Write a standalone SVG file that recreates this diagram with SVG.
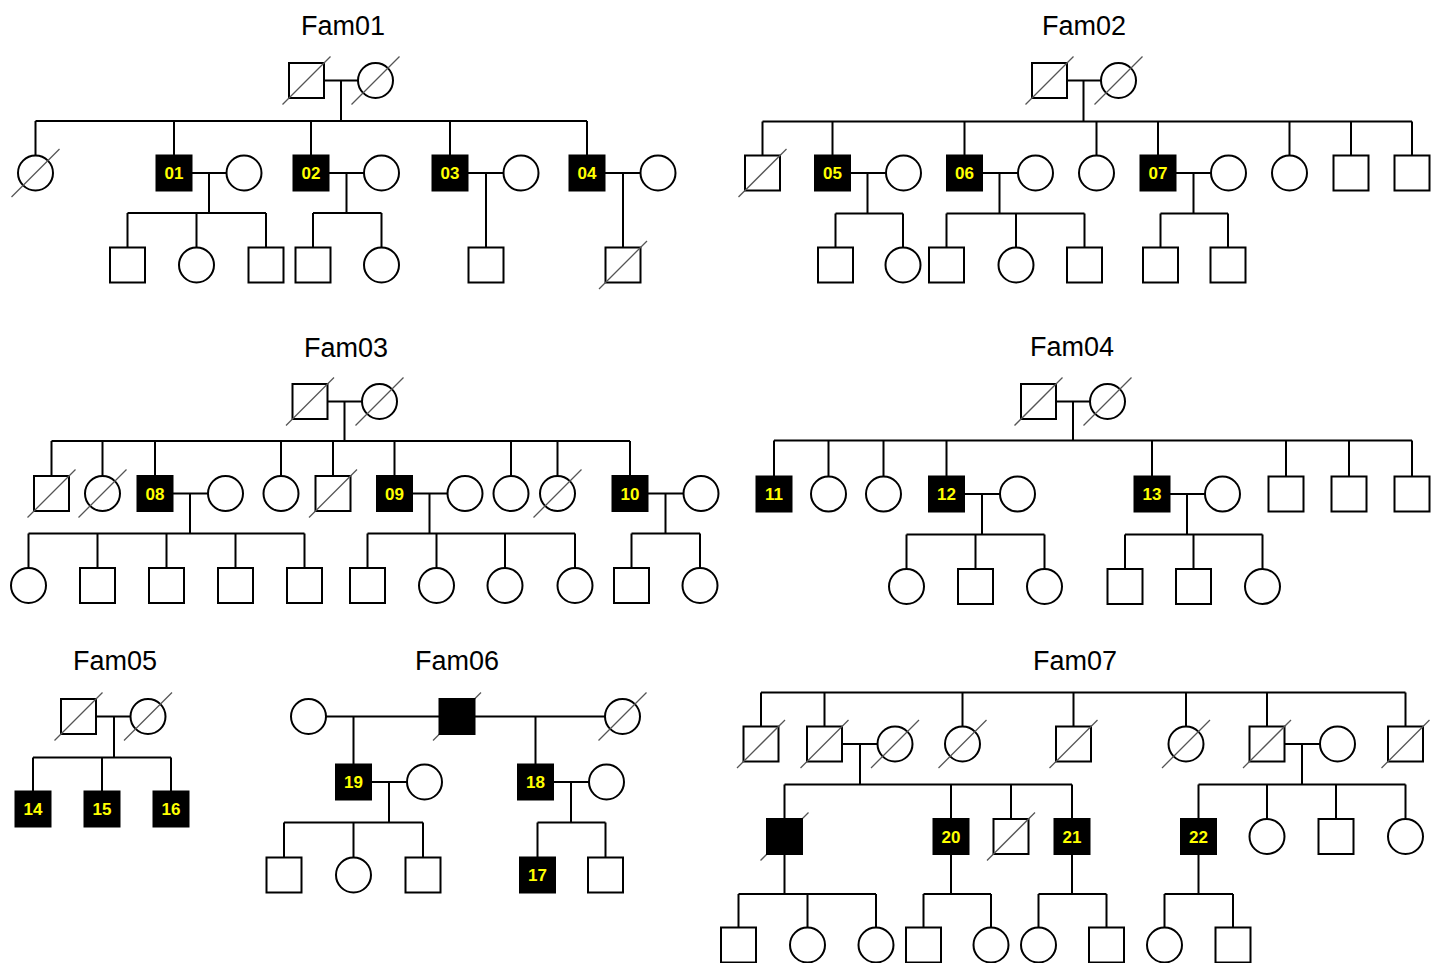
<svg xmlns="http://www.w3.org/2000/svg" xmlns:xlink="http://www.w3.org/1999/xlink" width="1439" height="963" viewBox="0 0 1439 963">
<style>
.sym{fill:#fff;stroke:#000;stroke-width:2}
.aff{fill:#000;stroke:#000;stroke-width:2}
.dec{stroke:#555;stroke-width:1.3}
.ln{fill:none;stroke:#000;stroke-width:2}
.lab{font-family:"Liberation Sans",Arial,sans-serif;font-weight:bold;font-size:17px;fill:#ffff00;text-anchor:middle}
.title{font-family:"Liberation Sans",Arial,sans-serif;font-size:27px;fill:#000;text-anchor:middle}
</style>
<defs>
<rect id="sq" x="-17.5" y="-17.5" width="35" height="35" class="sym"/>
<rect id="sqa" x="-17.5" y="-17.5" width="35" height="35" class="aff"/>
<circle id="ci" r="17.5" class="sym"/>
<line id="sl" x1="-24" y1="24" x2="24" y2="-24" class="dec"/>
</defs>
<rect width="1439" height="963" fill="#fff"/>

<g id="titles">
<text class="title" x="343" y="35">Fam01</text>
<text class="title" x="1084" y="35">Fam02</text>
<text class="title" x="346" y="357">Fam03</text>
<text class="title" x="1072" y="356">Fam04</text>
<text class="title" x="115" y="670">Fam05</text>
<text class="title" x="457" y="670">Fam06</text>
<text class="title" x="1075" y="670">Fam07</text>
</g>

<g id="connectors" class="ln">
<!-- Fam01 -->
<path d="M324,80.5H358M341,80.5V121M35.5,121H587M35.5,121V155.5M174,121V155.5M311,121V155.5M450,121V155.5M587,121V155.5"/>
<path d="M191.5,173H226.5M209,173V213M127.5,213H266M127.5,213V247.5M196.5,213V247.5M266,213V247.5"/>
<path d="M328.5,173H364M346.5,173V213M313,213H381.5M313,213V247.5M381.5,213V247.5"/>
<path d="M467.5,173H503.5M486,173V247.5"/>
<path d="M604.5,173H640.5M623,173V247.5"/>
<!-- Fam02 -->
<path d="M1067,80.5H1101M1083.5,80.5V121.5M762.5,121.5H1412M762.5,121.5V155.5M832.5,121.5V155.5M964.5,121.5V155.5M1096.5,121.5V155.5M1158,121.5V155.5M1289.5,121.5V155.5M1351,121.5V155.5M1412,121.5V155.5"/>
<path d="M850,173H886M867.5,173V213.5M835.5,213.5H903M835.5,213.5V247.5M903,213.5V247.5"/>
<path d="M982,173H1018M999.5,173V213.5M946.5,213.5H1084.5M946.5,213.5V247.5M1016,213.5V247.5M1084.5,213.5V247.5"/>
<path d="M1175.5,173H1211M1193.5,173V213.5M1160.5,213.5H1228M1160.5,213.5V247.5M1228,213.5V247.5"/>
<!-- Fam03 -->
<path d="M327.5,401.5H362M344.5,401.5V441M51.5,441H630M51.5,441V476M102.5,441V476M155,441V476M281,441V476M333,441V476M394.5,441V476M511,441V476M557.5,441V476M630,441V476"/>
<path d="M172.5,493.5H208M190,493.5V533.5M28.5,533.5H304.5M28.5,533.5V568M97.5,533.5V568M166.5,533.5V568M235.5,533.5V568M304.5,533.5V568"/>
<path d="M412,493.5H447.5M429.5,493.5V533.5M367.5,533.5H575M367.5,533.5V568M436.5,533.5V568M505,533.5V568M575,533.5V568"/>
<path d="M647.5,493.5H683.5M665.5,493.5V533.5M631.5,533.5H700M631.5,533.5V568M700,533.5V568"/>
<!-- Fam04 -->
<path d="M1056,401.5H1090M1073,401.5V440.5M774,440.5H1412M774,440.5V476.5M828.5,440.5V476.5M883.5,440.5V476.5M946.5,440.5V476.5M1152,440.5V476.5M1286,440.5V476.5M1349,440.5V476.5M1412,440.5V476.5"/>
<path d="M964,494H1000M982,494V534.5M906.5,534.5H1044.5M906.5,534.5V569M975.5,534.5V569M1044.5,534.5V569"/>
<path d="M1169.5,494H1205M1187,494V534.5M1125,534.5H1262.5M1125,534.5V569M1193.5,534.5V569M1262.5,534.5V569"/>
<!-- Fam05 -->
<path d="M96,716.5H130.5M114,716.5V757.5M33,757.5H171M33,757.5V791.5M102,757.5V791.5M171,757.5V791.5"/>
<!-- Fam06 -->
<path d="M326,716.5H439.5M474.5,716.5H605M353.5,716.5V764.5M535.5,716.5V764.5"/>
<path d="M371,782H407M389,782V822.5M284,822.5H423M284,822.5V857.5M353.5,822.5V857.5M423,822.5V857.5"/>
<path d="M553,782H589M571,782V822.5M537.5,822.5H605.5M537.5,822.5V857.5M605.5,822.5V857.5"/>
<!-- Fam07 -->
<path d="M761,692.5H1405.5M761,692.5V726.5M824.5,692.5V726.5M962.5,692.5V726.5M1073.5,692.5V726.5M1186,692.5V726.5M1267,692.5V726.5M1405.5,692.5V726.5"/>
<path d="M842,744H877.5M860,744V784.5M784.5,784.5H1072M784.5,784.5V818.5M951,784.5V818.5M1011,784.5V818.5M1072,784.5V818.5"/>
<path d="M1284.5,744H1320M1302,744V784.5M1198.5,784.5H1405.5M1198.5,784.5V818.5M1267,784.5V818.5M1336,784.5V818.5M1405.5,784.5V818.5"/>
<path d="M784.5,854V894M738.5,894H876M738.5,894V927.5M807.5,894V927.5M876,894V927.5"/>
<path d="M951,854V894M923.5,894H991M923.5,894V927.5M991,894V927.5"/>
<path d="M1072,854V894M1038.5,894H1106.5M1038.5,894V927.5M1106.5,894V927.5"/>
<path d="M1198.5,854V894M1164.5,894H1233M1164.5,894V927.5M1233,894V927.5"/>
</g>

<!-- Fam01 nodes -->
<g id="f01-father"><use href="#sq" x="306.5" y="80.5"/><use href="#sl" x="306.5" y="80.5"/></g>
<g id="f01-mother"><use href="#ci" x="375.5" y="80.5"/><use href="#sl" x="375.5" y="80.5"/></g>
<g id="f01-c1"><use href="#ci" x="35.5" y="173"/><use href="#sl" x="35.5" y="173"/></g>
<g id="f01-p01"><use href="#sqa" x="174" y="173"/><text class="lab" x="174" y="179">01</text></g>
<g id="f01-s01"><use href="#ci" x="244" y="173"/></g>
<g id="f01-p02"><use href="#sqa" x="311" y="173"/><text class="lab" x="311" y="179">02</text></g>
<g id="f01-s02"><use href="#ci" x="381.5" y="173"/></g>
<g id="f01-p03"><use href="#sqa" x="450" y="173"/><text class="lab" x="450" y="179">03</text></g>
<g id="f01-s03"><use href="#ci" x="521" y="173"/></g>
<g id="f01-p04"><use href="#sqa" x="587" y="173"/><text class="lab" x="587" y="179">04</text></g>
<g id="f01-s04"><use href="#ci" x="658" y="173"/></g>
<g id="f01-k1"><use href="#sq" x="127.5" y="265"/></g>
<g id="f01-k2"><use href="#ci" x="196.5" y="265"/></g>
<g id="f01-k3"><use href="#sq" x="266" y="265"/></g>
<g id="f01-k4"><use href="#sq" x="313" y="265"/></g>
<g id="f01-k5"><use href="#ci" x="381.5" y="265"/></g>
<g id="f01-k6"><use href="#sq" x="486" y="265"/></g>
<g id="f01-k7"><use href="#sq" x="623" y="265"/><use href="#sl" x="623" y="265"/></g>

<!-- Fam02 nodes -->
<g id="f02-father"><use href="#sq" x="1049.5" y="80.5"/><use href="#sl" x="1049.5" y="80.5"/></g>
<g id="f02-mother"><use href="#ci" x="1118.5" y="80.5"/><use href="#sl" x="1118.5" y="80.5"/></g>
<g id="f02-c1"><use href="#sq" x="762.5" y="173"/><use href="#sl" x="762.5" y="173"/></g>
<g id="f02-p05"><use href="#sqa" x="832.5" y="173"/><text class="lab" x="832.5" y="179">05</text></g>
<g id="f02-s05"><use href="#ci" x="903.5" y="173"/></g>
<g id="f02-p06"><use href="#sqa" x="964.5" y="173"/><text class="lab" x="964.5" y="179">06</text></g>
<g id="f02-s06"><use href="#ci" x="1035.5" y="173"/></g>
<g id="f02-c2"><use href="#ci" x="1096.5" y="173"/></g>
<g id="f02-p07"><use href="#sqa" x="1158" y="173"/><text class="lab" x="1158" y="179">07</text></g>
<g id="f02-s07"><use href="#ci" x="1228.5" y="173"/></g>
<g id="f02-c3"><use href="#ci" x="1289.5" y="173"/></g>
<g id="f02-c4"><use href="#sq" x="1351" y="173"/></g>
<g id="f02-c5"><use href="#sq" x="1412" y="173"/></g>
<g id="f02-k1"><use href="#sq" x="835.5" y="265"/></g>
<g id="f02-k2"><use href="#ci" x="903" y="265"/></g>
<g id="f02-k3"><use href="#sq" x="946.5" y="265"/></g>
<g id="f02-k4"><use href="#ci" x="1016" y="265"/></g>
<g id="f02-k5"><use href="#sq" x="1084.5" y="265"/></g>
<g id="f02-k6"><use href="#sq" x="1160.5" y="265"/></g>
<g id="f02-k7"><use href="#sq" x="1228" y="265"/></g>

<!-- Fam03 nodes -->
<g id="f03-father"><use href="#sq" x="310" y="401.5"/><use href="#sl" x="310" y="401.5"/></g>
<g id="f03-mother"><use href="#ci" x="379.5" y="401.5"/><use href="#sl" x="379.5" y="401.5"/></g>
<g id="f03-c1"><use href="#sq" x="51.5" y="493.5"/><use href="#sl" x="51.5" y="493.5"/></g>
<g id="f03-c2"><use href="#ci" x="102.5" y="493.5"/><use href="#sl" x="102.5" y="493.5"/></g>
<g id="f03-p08"><use href="#sqa" x="155" y="493.5"/><text class="lab" x="155" y="499.5">08</text></g>
<g id="f03-s08"><use href="#ci" x="225.5" y="493.5"/></g>
<g id="f03-c3"><use href="#ci" x="281" y="493.5"/></g>
<g id="f03-c4"><use href="#sq" x="333" y="493.5"/><use href="#sl" x="333" y="493.5"/></g>
<g id="f03-p09"><use href="#sqa" x="394.5" y="493.5"/><text class="lab" x="394.5" y="499.5">09</text></g>
<g id="f03-s09"><use href="#ci" x="465" y="493.5"/></g>
<g id="f03-c5"><use href="#ci" x="511" y="493.5"/></g>
<g id="f03-c6"><use href="#ci" x="557.5" y="493.5"/><use href="#sl" x="557.5" y="493.5"/></g>
<g id="f03-p10"><use href="#sqa" x="630" y="493.5"/><text class="lab" x="630" y="499.5">10</text></g>
<g id="f03-s10"><use href="#ci" x="701" y="493.5"/></g>
<g id="f03-k1"><use href="#ci" x="28.5" y="585.5"/></g>
<g id="f03-k2"><use href="#sq" x="97.5" y="585.5"/></g>
<g id="f03-k3"><use href="#sq" x="166.5" y="585.5"/></g>
<g id="f03-k4"><use href="#sq" x="235.5" y="585.5"/></g>
<g id="f03-k5"><use href="#sq" x="304.5" y="585.5"/></g>
<g id="f03-k6"><use href="#sq" x="367.5" y="585.5"/></g>
<g id="f03-k7"><use href="#ci" x="436.5" y="585.5"/></g>
<g id="f03-k8"><use href="#ci" x="505" y="585.5"/></g>
<g id="f03-k9"><use href="#ci" x="575" y="585.5"/></g>
<g id="f03-k10"><use href="#sq" x="631.5" y="585.5"/></g>
<g id="f03-k11"><use href="#ci" x="700" y="585.5"/></g>

<!-- Fam04 nodes -->
<g id="f04-father"><use href="#sq" x="1038.5" y="401.5"/><use href="#sl" x="1038.5" y="401.5"/></g>
<g id="f04-mother"><use href="#ci" x="1107.5" y="401.5"/><use href="#sl" x="1107.5" y="401.5"/></g>
<g id="f04-p11"><use href="#sqa" x="774" y="494"/><text class="lab" x="774" y="500">11</text></g>
<g id="f04-c1"><use href="#ci" x="828.5" y="494"/></g>
<g id="f04-c2"><use href="#ci" x="883.5" y="494"/></g>
<g id="f04-p12"><use href="#sqa" x="946.5" y="494"/><text class="lab" x="946.5" y="500">12</text></g>
<g id="f04-s12"><use href="#ci" x="1017.5" y="494"/></g>
<g id="f04-p13"><use href="#sqa" x="1152" y="494"/><text class="lab" x="1152" y="500">13</text></g>
<g id="f04-s13"><use href="#ci" x="1222.5" y="494"/></g>
<g id="f04-c3"><use href="#sq" x="1286" y="494"/></g>
<g id="f04-c4"><use href="#sq" x="1349" y="494"/></g>
<g id="f04-c5"><use href="#sq" x="1412" y="494"/></g>
<g id="f04-k1"><use href="#ci" x="906.5" y="586.5"/></g>
<g id="f04-k2"><use href="#sq" x="975.5" y="586.5"/></g>
<g id="f04-k3"><use href="#ci" x="1044.5" y="586.5"/></g>
<g id="f04-k4"><use href="#sq" x="1125" y="586.5"/></g>
<g id="f04-k5"><use href="#sq" x="1193.5" y="586.5"/></g>
<g id="f04-k6"><use href="#ci" x="1262.5" y="586.5"/></g>

<!-- Fam05 nodes -->
<g id="f05-father"><use href="#sq" x="78.5" y="716.5"/><use href="#sl" x="78.5" y="716.5"/></g>
<g id="f05-mother"><use href="#ci" x="148" y="716.5"/><use href="#sl" x="148" y="716.5"/></g>
<g id="f05-p14"><use href="#sqa" x="33" y="809"/><text class="lab" x="33" y="815">14</text></g>
<g id="f05-p15"><use href="#sqa" x="102" y="809"/><text class="lab" x="102" y="815">15</text></g>
<g id="f05-p16"><use href="#sqa" x="171" y="809"/><text class="lab" x="171" y="815">16</text></g>

<!-- Fam06 nodes -->
<g id="f06-wife1"><use href="#ci" x="308.5" y="716.5"/></g>
<g id="f06-father"><use href="#sl" x="457" y="716.5"/><use href="#sqa" x="457" y="716.5"/></g>
<g id="f06-wife2"><use href="#ci" x="622.5" y="716.5"/><use href="#sl" x="622.5" y="716.5"/></g>
<g id="f06-p19"><use href="#sqa" x="353.5" y="782"/><text class="lab" x="353.5" y="788">19</text></g>
<g id="f06-s19"><use href="#ci" x="424.5" y="782"/></g>
<g id="f06-p18"><use href="#sqa" x="535.5" y="782"/><text class="lab" x="535.5" y="788">18</text></g>
<g id="f06-s18"><use href="#ci" x="606.5" y="782"/></g>
<g id="f06-k1"><use href="#sq" x="284" y="875"/></g>
<g id="f06-k2"><use href="#ci" x="353.5" y="875"/></g>
<g id="f06-k3"><use href="#sq" x="423" y="875"/></g>
<g id="f06-p17"><use href="#sqa" x="537.5" y="875"/><text class="lab" x="537.5" y="881">17</text></g>
<g id="f06-k5"><use href="#sq" x="605.5" y="875"/></g>

<!-- Fam07 nodes -->
<g id="f07-g1a"><use href="#sq" x="761" y="744"/><use href="#sl" x="761" y="744"/></g>
<g id="f07-g1b"><use href="#sq" x="824.5" y="744"/><use href="#sl" x="824.5" y="744"/></g>
<g id="f07-g1b-sp"><use href="#ci" x="895" y="744"/><use href="#sl" x="895" y="744"/></g>
<g id="f07-g1c"><use href="#ci" x="962.5" y="744"/><use href="#sl" x="962.5" y="744"/></g>
<g id="f07-g1d"><use href="#sq" x="1073.5" y="744"/><use href="#sl" x="1073.5" y="744"/></g>
<g id="f07-g1e"><use href="#ci" x="1186" y="744"/><use href="#sl" x="1186" y="744"/></g>
<g id="f07-g1f"><use href="#sq" x="1267" y="744"/><use href="#sl" x="1267" y="744"/></g>
<g id="f07-g1f-sp"><use href="#ci" x="1337.5" y="744"/></g>
<g id="f07-g1g"><use href="#sq" x="1405.5" y="744"/><use href="#sl" x="1405.5" y="744"/></g>
<g id="f07-g2a"><use href="#sl" x="784.5" y="836.5"/><use href="#sqa" x="784.5" y="836.5"/></g>
<g id="f07-p20"><use href="#sqa" x="951" y="836.5"/><text class="lab" x="951" y="842.5">20</text></g>
<g id="f07-g2c"><use href="#sq" x="1011" y="836.5"/><use href="#sl" x="1011" y="836.5"/></g>
<g id="f07-p21"><use href="#sqa" x="1072" y="836.5"/><text class="lab" x="1072" y="842.5">21</text></g>
<g id="f07-p22"><use href="#sqa" x="1198.5" y="836.5"/><text class="lab" x="1198.5" y="842.5">22</text></g>
<g id="f07-g2f"><use href="#ci" x="1267" y="836.5"/></g>
<g id="f07-g2g"><use href="#sq" x="1336" y="836.5"/></g>
<g id="f07-g2h"><use href="#ci" x="1405.5" y="836.5"/></g>
<g id="f07-k1"><use href="#sq" x="738.5" y="945"/></g>
<g id="f07-k2"><use href="#ci" x="807.5" y="945"/></g>
<g id="f07-k3"><use href="#ci" x="876" y="945"/></g>
<g id="f07-k4"><use href="#sq" x="923.5" y="945"/></g>
<g id="f07-k5"><use href="#ci" x="991" y="945"/></g>
<g id="f07-k6"><use href="#ci" x="1038.5" y="945"/></g>
<g id="f07-k7"><use href="#sq" x="1106.5" y="945"/></g>
<g id="f07-k8"><use href="#ci" x="1164.5" y="945"/></g>
<g id="f07-k9"><use href="#sq" x="1233" y="945"/></g>
</svg>
